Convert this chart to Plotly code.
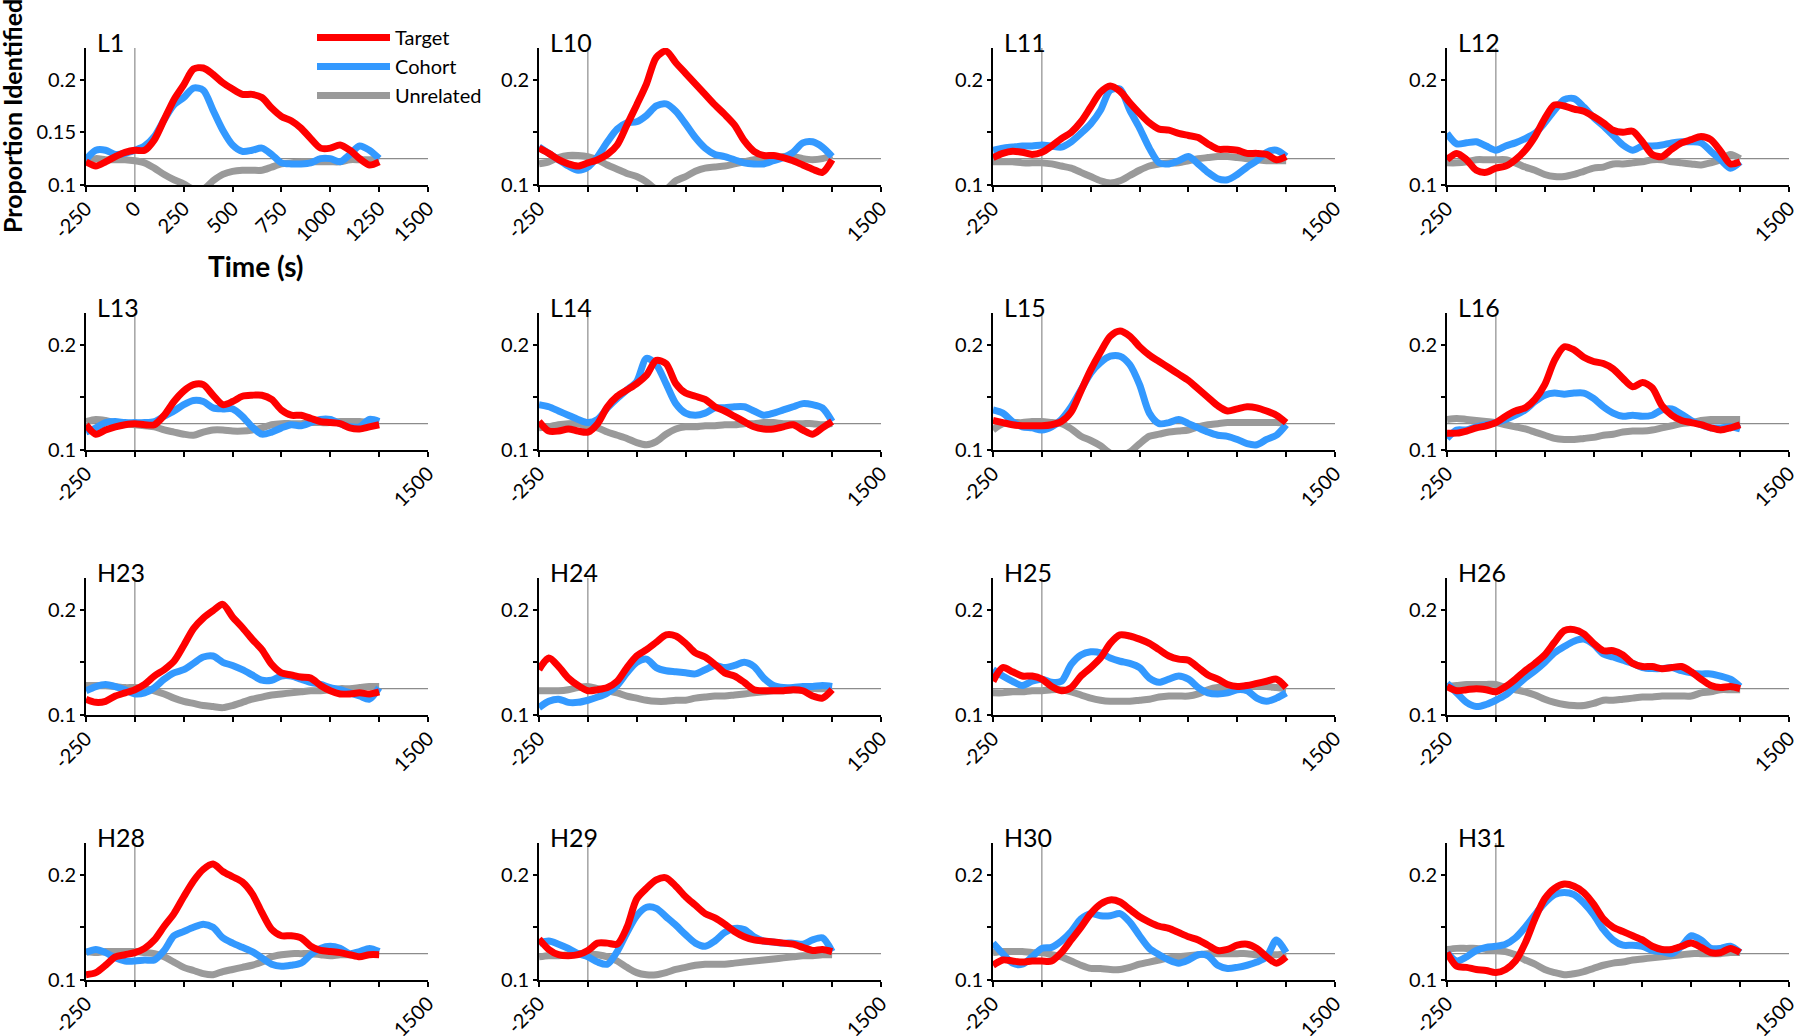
import plotly.graph_objects as go

# sample times (ms) shared by every panel
time_ms = [-250, -200, -150, -100, -50, 0, 50, 100, 150, 200, 250, 300, 350, 400, 450, 500,
           550, 600, 650, 700, 750, 800, 850, 900, 950, 1000, 1050, 1100, 1150, 1200, 1250]

x_tickvals = [-250, 0, 250, 500, 750, 1000, 1250, 1500]
x_ticktext_full = ['-250', '0', '250', '500', '750', '1000', '1250', '1500']
x_ticktext_short = ['-250', '', '', '', '', '', '', '1500']
y_tickvals = [0.1, 0.15, 0.2]
y_ticktext_full = ['0.1', '0.15', '0.2']
y_ticktext_short = ['0.1', '', '0.2']
chance_level = 0.125

l1_target = [0.122, 0.118, 0.122, 0.127, 0.131, 0.133, 0.133, 0.143, 0.162, 0.181, 0.195, 0.210, 0.211, 0.205, 0.197, 0.191,
             0.186, 0.186, 0.183, 0.173, 0.165, 0.161, 0.154, 0.144, 0.135, 0.135, 0.138, 0.133, 0.125, 0.119, 0.122]
l1_cohort = [0.124, 0.133, 0.133, 0.129, 0.130, 0.133, 0.137, 0.146, 0.162, 0.176, 0.183, 0.192, 0.190, 0.171, 0.152, 0.138,
             0.132, 0.133, 0.135, 0.129, 0.121, 0.120, 0.120, 0.121, 0.125, 0.125, 0.122, 0.129, 0.137, 0.133, 0.125]
l1_unrelated = [0.122, 0.125, 0.124, 0.124, 0.124, 0.123, 0.121, 0.116, 0.110, 0.105, 0.101, 0.096, 0.096, 0.104, 0.110, 0.113,
                0.114, 0.114, 0.114, 0.117, 0.120, 0.121, 0.122, 0.122, 0.122, 0.122, 0.122, 0.124, 0.124, 0.124, 0.124]

l10_target = [0.135, 0.130, 0.124, 0.120, 0.118, 0.121, 0.124, 0.129, 0.138, 0.157, 0.176, 0.196, 0.221, 0.227, 0.216, 0.206,
              0.196, 0.186, 0.176, 0.167, 0.157, 0.142, 0.132, 0.128, 0.128, 0.126, 0.123, 0.119, 0.115, 0.112, 0.124]
l10_cohort = [0.136, 0.130, 0.124, 0.118, 0.114, 0.117, 0.127, 0.141, 0.153, 0.159, 0.160, 0.166, 0.175, 0.177, 0.170, 0.158,
              0.145, 0.135, 0.129, 0.127, 0.124, 0.121, 0.120, 0.120, 0.123, 0.126, 0.131, 0.140, 0.141, 0.136, 0.127]
l10_unrelated = [0.120, 0.122, 0.126, 0.128, 0.128, 0.127, 0.124, 0.119, 0.115, 0.111, 0.108, 0.103, 0.096, 0.096, 0.104, 0.108,
                 0.113, 0.116, 0.117, 0.118, 0.120, 0.122, 0.124, 0.124, 0.125, 0.127, 0.127, 0.125, 0.124, 0.125, 0.128]

l11_target = [0.126, 0.130, 0.132, 0.131, 0.129, 0.131, 0.137, 0.144, 0.150, 0.160, 0.174, 0.188, 0.194, 0.189, 0.178, 0.168,
              0.159, 0.153, 0.152, 0.149, 0.147, 0.145, 0.139, 0.134, 0.134, 0.133, 0.130, 0.130, 0.129, 0.124, 0.127]
l11_cohort = [0.133, 0.135, 0.136, 0.137, 0.137, 0.138, 0.137, 0.136, 0.141, 0.149, 0.158, 0.171, 0.190, 0.191, 0.171, 0.154,
              0.135, 0.121, 0.120, 0.123, 0.127, 0.120, 0.112, 0.106, 0.105, 0.110, 0.117, 0.123, 0.131, 0.133, 0.127]
l11_unrelated = [0.122, 0.122, 0.122, 0.121, 0.121, 0.121, 0.120, 0.118, 0.116, 0.112, 0.108, 0.104, 0.102, 0.104, 0.109, 0.114,
                 0.118, 0.120, 0.121, 0.121, 0.123, 0.125, 0.126, 0.127, 0.127, 0.126, 0.125, 0.124, 0.123, 0.123, 0.123]

l12_target = [0.124, 0.130, 0.124, 0.114, 0.112, 0.116, 0.118, 0.124, 0.133, 0.146, 0.163, 0.176, 0.175, 0.172, 0.170, 0.165,
              0.159, 0.152, 0.150, 0.151, 0.141, 0.129, 0.127, 0.134, 0.140, 0.143, 0.146, 0.143, 0.132, 0.120, 0.122]
l12_cohort = [0.149, 0.139, 0.140, 0.141, 0.137, 0.133, 0.137, 0.140, 0.144, 0.149, 0.159, 0.171, 0.181, 0.182, 0.174, 0.164,
              0.156, 0.147, 0.138, 0.133, 0.137, 0.137, 0.138, 0.140, 0.141, 0.141, 0.140, 0.132, 0.124, 0.116, 0.122]
l12_unrelated = [0.121, 0.121, 0.122, 0.124, 0.124, 0.124, 0.124, 0.121, 0.117, 0.114, 0.110, 0.108, 0.108, 0.110, 0.113, 0.116,
                 0.117, 0.120, 0.120, 0.121, 0.122, 0.124, 0.124, 0.122, 0.121, 0.120, 0.119, 0.121, 0.124, 0.129, 0.125]

l13_target = [0.124, 0.115, 0.119, 0.122, 0.124, 0.125, 0.124, 0.124, 0.133, 0.146, 0.156, 0.162, 0.162, 0.152, 0.143, 0.146,
              0.151, 0.152, 0.152, 0.148, 0.138, 0.133, 0.133, 0.130, 0.127, 0.126, 0.125, 0.121, 0.120, 0.122, 0.124]
l13_cohort = [0.117, 0.121, 0.126, 0.127, 0.126, 0.126, 0.126, 0.127, 0.132, 0.137, 0.143, 0.147, 0.146, 0.140, 0.139, 0.139,
              0.132, 0.122, 0.115, 0.117, 0.121, 0.124, 0.123, 0.126, 0.129, 0.129, 0.125, 0.122, 0.122, 0.129, 0.127]
l13_unrelated = [0.127, 0.129, 0.128, 0.126, 0.125, 0.124, 0.123, 0.122, 0.119, 0.117, 0.115, 0.114, 0.117, 0.119, 0.119, 0.118,
                 0.118, 0.119, 0.121, 0.124, 0.125, 0.125, 0.125, 0.126, 0.126, 0.126, 0.127, 0.127, 0.127, 0.126, 0.126]

l14_target = [0.127, 0.118, 0.118, 0.120, 0.118, 0.117, 0.125, 0.141, 0.151, 0.157, 0.163, 0.171, 0.185, 0.182, 0.163, 0.154,
              0.151, 0.148, 0.141, 0.137, 0.132, 0.127, 0.122, 0.120, 0.120, 0.122, 0.124, 0.119, 0.115, 0.121, 0.127]
l14_cohort = [0.143, 0.141, 0.137, 0.133, 0.129, 0.126, 0.129, 0.140, 0.149, 0.157, 0.165, 0.187, 0.181, 0.163, 0.144, 0.135,
              0.133, 0.135, 0.140, 0.140, 0.141, 0.141, 0.137, 0.133, 0.135, 0.138, 0.141, 0.144, 0.143, 0.140, 0.127]
l14_unrelated = [0.121, 0.122, 0.124, 0.125, 0.125, 0.122, 0.121, 0.117, 0.114, 0.111, 0.107, 0.105, 0.108, 0.115, 0.120, 0.122,
                 0.122, 0.123, 0.123, 0.124, 0.124, 0.125, 0.125, 0.126, 0.126, 0.125, 0.125, 0.125, 0.125, 0.124, 0.125]

l15_target = [0.128, 0.126, 0.124, 0.123, 0.123, 0.123, 0.124, 0.127, 0.136, 0.156, 0.176, 0.193, 0.208, 0.213, 0.208, 0.198,
              0.190, 0.184, 0.178, 0.172, 0.166, 0.158, 0.150, 0.142, 0.137, 0.139, 0.141, 0.140, 0.137, 0.133, 0.126]
l15_cohort = [0.138, 0.135, 0.127, 0.122, 0.121, 0.119, 0.122, 0.129, 0.141, 0.157, 0.173, 0.183, 0.189, 0.189, 0.181, 0.162,
              0.135, 0.125, 0.126, 0.129, 0.125, 0.121, 0.117, 0.114, 0.113, 0.110, 0.106, 0.105, 0.110, 0.114, 0.124]
l15_unrelated = [0.119, 0.125, 0.126, 0.126, 0.127, 0.127, 0.126, 0.125, 0.120, 0.113, 0.109, 0.104, 0.097, 0.095, 0.098, 0.106,
                 0.113, 0.115, 0.117, 0.118, 0.119, 0.122, 0.124, 0.125, 0.126, 0.126, 0.126, 0.126, 0.126, 0.126, 0.125]

l16_target = [0.116, 0.116, 0.118, 0.121, 0.123, 0.126, 0.132, 0.137, 0.140, 0.148, 0.162, 0.185, 0.198, 0.195, 0.188, 0.184,
              0.182, 0.177, 0.168, 0.160, 0.164, 0.159, 0.142, 0.133, 0.128, 0.126, 0.124, 0.121, 0.119, 0.121, 0.124]
l16_cohort = [0.111, 0.119, 0.119, 0.122, 0.124, 0.126, 0.129, 0.133, 0.138, 0.146, 0.152, 0.154, 0.153, 0.154, 0.154, 0.149,
              0.141, 0.135, 0.132, 0.133, 0.132, 0.133, 0.138, 0.139, 0.134, 0.128, 0.124, 0.121, 0.121, 0.122, 0.120]
l16_unrelated = [0.129, 0.130, 0.129, 0.128, 0.127, 0.126, 0.124, 0.122, 0.120, 0.117, 0.114, 0.111, 0.110, 0.110, 0.111, 0.112,
                 0.114, 0.115, 0.117, 0.118, 0.118, 0.119, 0.121, 0.123, 0.125, 0.126, 0.128, 0.129, 0.129, 0.129, 0.129]

h23_target = [0.115, 0.112, 0.113, 0.118, 0.121, 0.124, 0.129, 0.137, 0.143, 0.151, 0.166, 0.182, 0.192, 0.199, 0.205, 0.193,
              0.183, 0.172, 0.162, 0.148, 0.140, 0.138, 0.136, 0.135, 0.128, 0.123, 0.120, 0.120, 0.121, 0.120, 0.122]
h23_cohort = [0.123, 0.127, 0.129, 0.127, 0.124, 0.120, 0.121, 0.126, 0.134, 0.140, 0.143, 0.149, 0.155, 0.156, 0.150, 0.147,
              0.143, 0.138, 0.133, 0.133, 0.137, 0.137, 0.134, 0.131, 0.129, 0.126, 0.124, 0.121, 0.118, 0.115, 0.126]
h23_unrelated = [0.128, 0.128, 0.128, 0.127, 0.126, 0.126, 0.125, 0.123, 0.120, 0.116, 0.113, 0.111, 0.109, 0.108, 0.107, 0.109,
                 0.112, 0.115, 0.117, 0.119, 0.120, 0.121, 0.122, 0.123, 0.123, 0.124, 0.125, 0.125, 0.126, 0.127, 0.127]

h24_target = [0.143, 0.154, 0.146, 0.135, 0.128, 0.123, 0.124, 0.126, 0.132, 0.145, 0.156, 0.162, 0.169, 0.176, 0.175, 0.168,
              0.159, 0.155, 0.148, 0.140, 0.137, 0.131, 0.124, 0.123, 0.123, 0.123, 0.124, 0.123, 0.118, 0.116, 0.124]
h24_cohort = [0.107, 0.113, 0.115, 0.112, 0.112, 0.114, 0.117, 0.121, 0.128, 0.140, 0.150, 0.153, 0.145, 0.142, 0.141, 0.140,
              0.139, 0.143, 0.147, 0.145, 0.147, 0.150, 0.146, 0.135, 0.128, 0.126, 0.126, 0.127, 0.127, 0.128, 0.127]
h24_unrelated = [0.123, 0.123, 0.123, 0.124, 0.126, 0.127, 0.125, 0.123, 0.121, 0.118, 0.116, 0.114, 0.113, 0.113, 0.114, 0.114,
                 0.116, 0.117, 0.118, 0.118, 0.119, 0.120, 0.121, 0.122, 0.123, 0.123, 0.124, 0.124, 0.125, 0.125, 0.126]

h25_target = [0.132, 0.145, 0.141, 0.137, 0.137, 0.134, 0.127, 0.123, 0.126, 0.137, 0.145, 0.154, 0.168, 0.176, 0.175, 0.172,
              0.168, 0.162, 0.156, 0.153, 0.152, 0.145, 0.138, 0.134, 0.129, 0.127, 0.128, 0.130, 0.132, 0.134, 0.126]
h25_cohort = [0.143, 0.137, 0.132, 0.128, 0.132, 0.134, 0.131, 0.132, 0.148, 0.157, 0.160, 0.159, 0.154, 0.151, 0.149, 0.145,
              0.135, 0.131, 0.134, 0.137, 0.134, 0.126, 0.121, 0.120, 0.121, 0.124, 0.123, 0.116, 0.113, 0.116, 0.121]
h25_unrelated = [0.121, 0.121, 0.122, 0.122, 0.123, 0.123, 0.124, 0.124, 0.122, 0.119, 0.116, 0.114, 0.113, 0.113, 0.113, 0.114,
                 0.115, 0.117, 0.118, 0.118, 0.118, 0.120, 0.124, 0.126, 0.126, 0.127, 0.127, 0.127, 0.127, 0.126, 0.125]

h26_target = [0.127, 0.123, 0.124, 0.125, 0.124, 0.122, 0.127, 0.134, 0.142, 0.149, 0.157, 0.169, 0.180, 0.181, 0.177, 0.168,
              0.161, 0.161, 0.157, 0.149, 0.146, 0.146, 0.144, 0.145, 0.146, 0.141, 0.134, 0.128, 0.126, 0.127, 0.125]
h26_cohort = [0.130, 0.121, 0.112, 0.108, 0.110, 0.114, 0.119, 0.127, 0.135, 0.142, 0.150, 0.159, 0.165, 0.170, 0.172, 0.167,
              0.158, 0.155, 0.152, 0.149, 0.145, 0.144, 0.144, 0.145, 0.142, 0.140, 0.139, 0.139, 0.137, 0.134, 0.127]
h26_unrelated = [0.127, 0.128, 0.129, 0.129, 0.129, 0.129, 0.126, 0.124, 0.122, 0.119, 0.115, 0.112, 0.110, 0.109, 0.109, 0.111,
                 0.114, 0.114, 0.115, 0.116, 0.117, 0.117, 0.118, 0.118, 0.118, 0.118, 0.121, 0.122, 0.124, 0.124, 0.124]

h28_target = [0.105, 0.107, 0.114, 0.122, 0.124, 0.126, 0.130, 0.138, 0.151, 0.163, 0.179, 0.194, 0.205, 0.210, 0.203, 0.198,
              0.193, 0.182, 0.164, 0.148, 0.142, 0.142, 0.140, 0.132, 0.128, 0.127, 0.126, 0.124, 0.122, 0.124, 0.124]
h28_cohort = [0.126, 0.129, 0.126, 0.121, 0.118, 0.118, 0.119, 0.119, 0.128, 0.142, 0.146, 0.150, 0.153, 0.150, 0.140, 0.135,
              0.131, 0.127, 0.121, 0.115, 0.113, 0.114, 0.116, 0.124, 0.130, 0.132, 0.130, 0.125, 0.127, 0.130, 0.127]
h28_unrelated = [0.127, 0.126, 0.127, 0.127, 0.127, 0.127, 0.126, 0.125, 0.122, 0.117, 0.112, 0.109, 0.106, 0.105, 0.108, 0.110,
                 0.112, 0.114, 0.117, 0.122, 0.124, 0.125, 0.125, 0.125, 0.124, 0.123, 0.124, 0.124, 0.125, 0.125, 0.125]

h29_target = [0.139, 0.129, 0.124, 0.123, 0.124, 0.128, 0.135, 0.135, 0.134, 0.150, 0.177, 0.187, 0.195, 0.197, 0.189, 0.179,
              0.171, 0.163, 0.159, 0.153, 0.146, 0.141, 0.138, 0.137, 0.136, 0.135, 0.134, 0.131, 0.128, 0.129, 0.127]
h29_cohort = [0.135, 0.137, 0.134, 0.130, 0.125, 0.122, 0.117, 0.115, 0.127, 0.145, 0.161, 0.169, 0.168, 0.160, 0.152, 0.143,
              0.135, 0.132, 0.137, 0.145, 0.149, 0.148, 0.141, 0.137, 0.136, 0.135, 0.135, 0.134, 0.138, 0.140, 0.127]
h29_unrelated = [0.122, 0.123, 0.123, 0.124, 0.125, 0.125, 0.124, 0.122, 0.118, 0.112, 0.107, 0.105, 0.105, 0.107, 0.110, 0.112,
                 0.114, 0.115, 0.115, 0.115, 0.116, 0.117, 0.118, 0.119, 0.120, 0.121, 0.122, 0.123, 0.123, 0.124, 0.124]

h30_target = [0.114, 0.119, 0.118, 0.117, 0.118, 0.118, 0.118, 0.126, 0.138, 0.150, 0.163, 0.172, 0.176, 0.174, 0.167, 0.160,
              0.155, 0.151, 0.149, 0.145, 0.141, 0.138, 0.133, 0.128, 0.129, 0.133, 0.134, 0.130, 0.122, 0.116, 0.122]
h30_cohort = [0.135, 0.125, 0.116, 0.115, 0.122, 0.130, 0.131, 0.137, 0.146, 0.158, 0.163, 0.161, 0.161, 0.163, 0.155, 0.142,
              0.130, 0.124, 0.119, 0.116, 0.119, 0.124, 0.123, 0.114, 0.111, 0.112, 0.114, 0.117, 0.122, 0.138, 0.126]
h30_unrelated = [0.126, 0.127, 0.127, 0.127, 0.126, 0.126, 0.124, 0.122, 0.118, 0.114, 0.111, 0.111, 0.110, 0.110, 0.112, 0.115,
                 0.117, 0.119, 0.121, 0.122, 0.123, 0.124, 0.125, 0.125, 0.125, 0.125, 0.125, 0.124, 0.124, 0.124, 0.125]

h31_target = [0.126, 0.113, 0.112, 0.110, 0.109, 0.107, 0.110, 0.118, 0.135, 0.158, 0.177, 0.187, 0.191, 0.189, 0.183, 0.172,
              0.158, 0.150, 0.146, 0.142, 0.138, 0.132, 0.129, 0.129, 0.132, 0.135, 0.131, 0.126, 0.126, 0.130, 0.126]
h31_cohort = [0.126, 0.118, 0.122, 0.128, 0.131, 0.132, 0.134, 0.140, 0.150, 0.162, 0.173, 0.181, 0.183, 0.181, 0.173, 0.162,
              0.148, 0.138, 0.133, 0.133, 0.132, 0.128, 0.127, 0.125, 0.132, 0.142, 0.138, 0.130, 0.130, 0.132, 0.126]
h31_unrelated = [0.129, 0.130, 0.130, 0.130, 0.129, 0.128, 0.127, 0.124, 0.119, 0.115, 0.110, 0.107, 0.105, 0.106, 0.108, 0.111,
                 0.114, 0.116, 0.117, 0.119, 0.120, 0.121, 0.122, 0.123, 0.124, 0.125, 0.125, 0.125, 0.125, 0.126, 0.126]

panels = [
    ('L1', l1_target, l1_cohort, l1_unrelated),
    ('L10', l10_target, l10_cohort, l10_unrelated),
    ('L11', l11_target, l11_cohort, l11_unrelated),
    ('L12', l12_target, l12_cohort, l12_unrelated),
    ('L13', l13_target, l13_cohort, l13_unrelated),
    ('L14', l14_target, l14_cohort, l14_unrelated),
    ('L15', l15_target, l15_cohort, l15_unrelated),
    ('L16', l16_target, l16_cohort, l16_unrelated),
    ('H23', h23_target, h23_cohort, h23_unrelated),
    ('H24', h24_target, h24_cohort, h24_unrelated),
    ('H25', h25_target, h25_cohort, h25_unrelated),
    ('H26', h26_target, h26_cohort, h26_unrelated),
    ('H28', h28_target, h28_cohort, h28_unrelated),
    ('H29', h29_target, h29_cohort, h29_unrelated),
    ('H30', h30_target, h30_cohort, h30_unrelated),
    ('H31', h31_target, h31_cohort, h31_unrelated),
]

W, H = 1800, 1036
FONT = 'Lato, "Open Sans", sans-serif'
RED, BLUE, GREY = '#FF0000', '#3399FF', '#9A9A9A'

# pixel layout of the 4x4 grid
col_left = [86, 539, 993, 1447]
row_base = [185, 450, 715, 980]
plot_w, plot_h = 342, 137

fig = go.Figure()

for i, (name, tgt, coh, unr) in enumerate(panels):
    r, c = divmod(i, 4)
    n = '' if i == 0 else str(i + 1)
    xa, ya = 'x' + n, 'y' + n
    first = i == 0

    # grey drawn first so red ends up on top
    for label, vals, color, rank in [('Unrelated', unr, GREY, 3),
                                     ('Cohort', coh, BLUE, 2),
                                     ('Target', tgt, RED, 1)]:
        fig.add_trace(go.Scatter(
            x=time_ms, y=vals, mode='lines', name=label,
            line=dict(color=color, width=7, shape='spline', smoothing=0.8),
            xaxis=xa, yaxis=ya, legendgroup=label, legendrank=rank,
            showlegend=first, hoverinfo='skip'
        ))

    fig.layout['xaxis' + n] = dict(
        domain=[col_left[c] / W, (col_left[c] + plot_w) / W],
        anchor=ya, range=[-250, 1500], automargin=False,
        showline=True, linecolor='black', linewidth=2,
        ticks='outside', ticklen=5, tickwidth=1.5, tickcolor='black',
        tickvals=x_tickvals,
        ticktext=x_ticktext_full if first else x_ticktext_short,
        tickangle=-45, ticklabelstandoff=-3,
        tickfont=dict(family=FONT, size=20, color='black'),
        showgrid=False, zeroline=False, fixedrange=True
    )
    fig.layout['yaxis' + n] = dict(
        domain=[1 - row_base[r] / H, 1 - (row_base[r] - plot_h) / H],
        anchor=xa, range=[0.1, 0.23], automargin=False,
        showline=True, linecolor='black', linewidth=2,
        ticks='outside', ticklen=4, tickwidth=1.5, tickcolor='black',
        tickvals=y_tickvals,
        ticktext=y_ticktext_full if first else y_ticktext_short,
        tickfont=dict(family=FONT, size=20, color='black'),
        showgrid=False, zeroline=False, fixedrange=True
    )

    # chance level and word onset reference lines
    fig.add_shape(type='line', xref=xa, yref=ya, x0=-250, x1=1500,
                  y0=chance_level, y1=chance_level,
                  line=dict(color='#8C8C8C', width=1.2), layer='below')
    fig.add_shape(type='line', xref=xa, yref=ya, x0=0, x1=0, y0=0.1, y1=0.23,
                  line=dict(color='#8C8C8C', width=1.2), layer='below')

    fig.add_annotation(text=name, xref='paper', yref='paper',
                       x=(col_left[c] + 9) / W,
                       y=1 - (row_base[r] - plot_h + 11) / H,
                       xanchor='left', yanchor='bottom', showarrow=False,
                       font=dict(family=FONT, size=25, color='black'))

fig.add_annotation(text='<b>Time (s)</b>', xref='paper', yref='paper',
                   x=256 / W, y=1 - 266 / H, xanchor='center', yanchor='middle',
                   showarrow=False, font=dict(family=FONT, size=28, color='black'))
fig.add_annotation(text='<b>Proportion Identified</b>', xref='paper', yref='paper',
                   x=12 / W, y=1 - 116 / H, xanchor='center', yanchor='middle',
                   textangle=-90, showarrow=False,
                   font=dict(family=FONT, size=25, color='black'))

fig.update_layout(
    width=W, height=H,
    margin=dict(l=0, r=0, t=0, b=0, autoexpand=False),
    paper_bgcolor='white', plot_bgcolor='white',
    font=dict(family=FONT, color='black'),
    showlegend=True,
    legend=dict(x=312 / W, y=1 - 18 / H, xanchor='left', yanchor='top',
                font=dict(family=FONT, size=20, color='black'),
                itemwidth=73, traceorder='grouped', tracegroupgap=0,
                bgcolor='rgba(0,0,0,0)', borderwidth=0),
)

# drop the browser's default body margin so the figure sits at the page origin
fig.write_html('out.html', config={'displayModeBar': False},
               post_script="document.body.style.margin='0';")
